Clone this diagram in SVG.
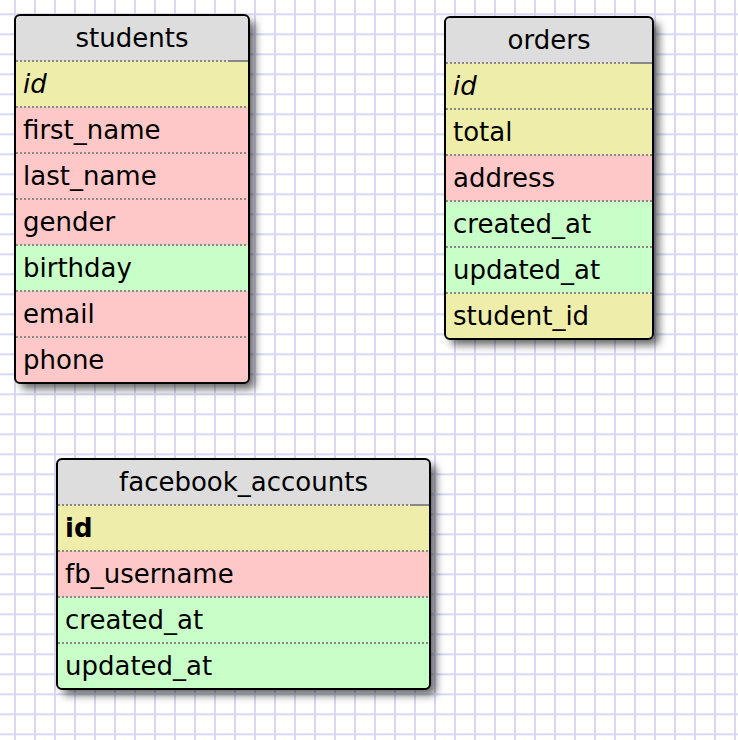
<svg xmlns="http://www.w3.org/2000/svg" width="738" height="740" viewBox="0 0 738 740">
  <defs>
    <pattern id="grid" width="20" height="20" patternUnits="userSpaceOnUse" x="5" y="4.3">
      <path d="M10 0V20M0 10H20" stroke="#d8d8f4" stroke-width="2" fill="none"/>
    </pattern>
    <filter id="shadow" x="-10%" y="-10%" width="130%" height="130%">
      <feDropShadow dx="6" dy="6" stdDeviation="4" flood-color="#000" flood-opacity="0.6"/>
    </filter>
    <clipPath id="clipS"><rect x="15" y="15" width="234" height="368" rx="5"/></clipPath>
    <clipPath id="clipO"><rect x="445" y="17" width="208" height="322" rx="5"/></clipPath>
    <clipPath id="clipF"><rect x="57" y="459" width="373" height="230" rx="5"/></clipPath>
  </defs>
  <style>
    text { font-family: "DejaVu Sans", Verdana, sans-serif; font-size: 26px; fill: #000; }
    .title { text-anchor: middle; }
    .hdr { fill: #dddddd; }
    .key { fill: #eeeeaa; }
    .chr { fill: #ffc8c8; }
    .dt { fill: #c8fec8; }
    .sep { stroke: #888; stroke-width: 2; stroke-dasharray: 2 2; fill: none; }
    .sepsolid { stroke: #888; stroke-width: 2; fill: none; }
    .border { fill: none; stroke: #000; stroke-width: 2; }
    .shadowbox { fill: #fff; filter: url(#shadow); }
  </style>
  <rect x="0" y="0" width="738" height="740" fill="#ffffff"/>
  <rect x="0" y="0" width="738" height="740" fill="url(#grid)"/>

  <g id="students">
    <rect class="shadowbox" x="15" y="15" width="234" height="368" rx="5"/>
    <g clip-path="url(#clipS)">
      <rect class="hdr" x="15" y="15" width="234" height="46"/>
      <rect class="key" x="15" y="61" width="234" height="46"/>
      <rect class="chr" x="15" y="107" width="234" height="46"/>
      <rect class="chr" x="15" y="153" width="234" height="46"/>
      <rect class="chr" x="15" y="199" width="234" height="46"/>
      <rect class="dt" x="15" y="245" width="234" height="46"/>
      <rect class="chr" x="15" y="291" width="234" height="46"/>
      <rect class="chr" x="15" y="337" width="234" height="46"/>
    </g>
    <path class="sep" d="M16 61H228M16 107H248M16 153H248M16 199H248M16 245H248M16 291H248M16 337H248"/>
    <path class="sepsolid" d="M228 61H248"/>
    <text class="title" x="132" y="47">students</text>
    <text x="23" y="93" font-style="italic">id</text>
    <text x="23" y="139">first_name</text>
    <text x="23" y="185">last_name</text>
    <text x="23" y="231">gender</text>
    <text x="23" y="277">birthday</text>
    <text x="23" y="323">email</text>
    <text x="23" y="369">phone</text>
    <rect class="border" x="15" y="15" width="234" height="368" rx="5"/>
  </g>

  <g id="orders">
    <rect class="shadowbox" x="445" y="17" width="208" height="322" rx="5"/>
    <g clip-path="url(#clipO)">
      <rect class="hdr" x="445" y="17" width="208" height="46"/>
      <rect class="key" x="445" y="63" width="208" height="46"/>
      <rect class="key" x="445" y="109" width="208" height="46"/>
      <rect class="chr" x="445" y="155" width="208" height="46"/>
      <rect class="dt" x="445" y="201" width="208" height="46"/>
      <rect class="dt" x="445" y="247" width="208" height="46"/>
      <rect class="key" x="445" y="293" width="208" height="46"/>
    </g>
    <path class="sep" d="M446 63H632M446 109H652M446 155H652M446 201H652M446 247H652M446 293H652"/>
    <path class="sepsolid" d="M632 63H652"/>
    <text class="title" x="549" y="49">orders</text>
    <text x="453" y="95" font-style="italic">id</text>
    <text x="453" y="141">total</text>
    <text x="453" y="187">address</text>
    <text x="453" y="233">created_at</text>
    <text x="453" y="279">updated_at</text>
    <text x="453" y="325">student_id</text>
    <rect class="border" x="445" y="17" width="208" height="322" rx="5"/>
  </g>

  <g id="facebook_accounts">
    <rect class="shadowbox" x="57" y="459" width="373" height="230" rx="5"/>
    <g clip-path="url(#clipF)">
      <rect class="hdr" x="57" y="459" width="373" height="46"/>
      <rect class="key" x="57" y="505" width="373" height="46"/>
      <rect class="chr" x="57" y="551" width="373" height="46"/>
      <rect class="dt" x="57" y="597" width="373" height="46"/>
      <rect class="dt" x="57" y="643" width="373" height="46"/>
    </g>
    <path class="sep" d="M58 505H410M58 551H429M58 597H429M58 643H429"/>
    <path class="sepsolid" d="M410 505H429"/>
    <text class="title" x="243.5" y="491">facebook_accounts</text>
    <text x="65" y="537" font-weight="bold">id</text>
    <text x="65" y="583">fb_username</text>
    <text x="65" y="629">created_at</text>
    <text x="65" y="675">updated_at</text>
    <rect class="border" x="57" y="459" width="373" height="230" rx="5"/>
  </g>

  <g id="connectors"></g>
</svg>
